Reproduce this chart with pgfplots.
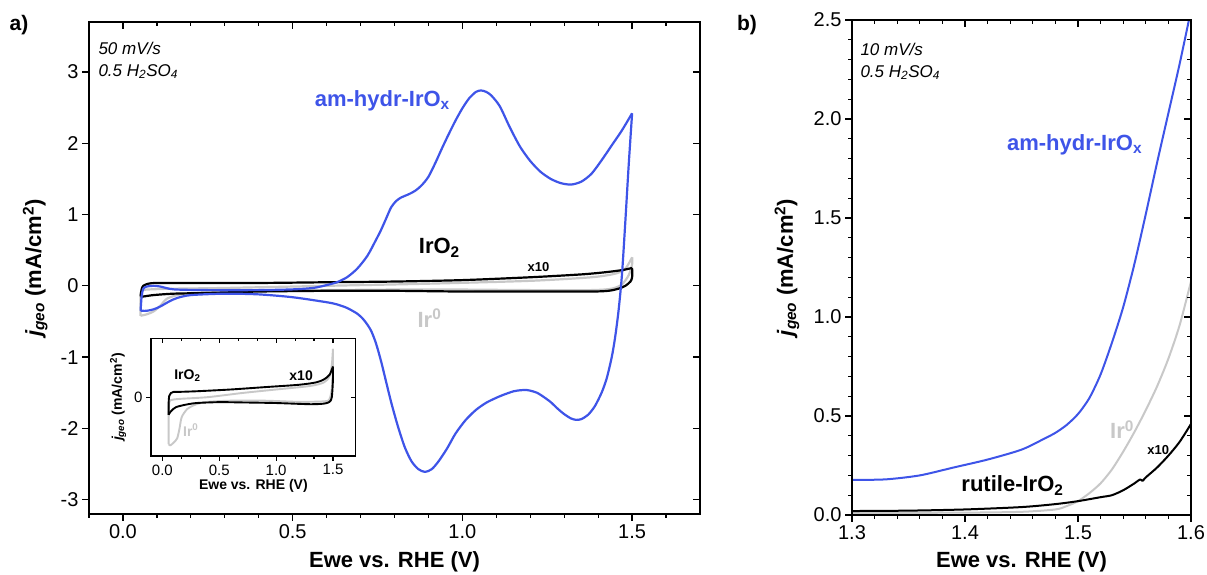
\documentclass[border=0pt]{standalone}
\usepackage{fontspec}
\setmainfont{Liberation Sans}
\usepackage{pgfplots}
\pgfplotsset{compat=1.18}
\definecolor{cblue}{RGB}{62,84,232}
\definecolor{cgray}{RGB}{200,200,200}

\newcommand{\fs}[1]{\fontsize{#1}{#1}\selectfont}

\pgfplotsset{
  base/.style={
    scale only axis,
    axis line style={line width=1.5pt},
    /pgf/number format/assume math mode=true,
    every tick/.style={line width=1.3pt, black},
    major tick length=7pt,
    minor tick length=4pt,
    tick label style={font=\fs{20}},
    label style={font=\bfseries\fs{22}},
  },
  mainticks/.style={tick align=outside, xtick pos=bottom, ytick pos=left},
  mirror/.style={tick align=inside, xtick pos=top, ytick pos=right,
    xticklabels={}, yticklabels={}, xlabel={}, ylabel={}},
  % panel a
  pa/.style={base, at={(89pt,61pt)}, anchor=south west, width=611pt, height=492pt,
    xmin=-0.1, xmax=1.7, ymin=-3.2, ymax=3.7,
    xtick={0,0.5,1,1.5},
    minor xtick={-0.1,0.1,0.2,0.3,0.4,0.6,0.7,0.8,0.9,1.1,1.2,1.3,1.4,1.6},
    ytick={-3,-2,-1,0,1,2,3},
    xticklabel style={/pgf/number format/.cd, fixed, fixed zerofill, precision=1},
  },
  % panel b
  pb/.style={base, at={(852pt,60pt)}, anchor=south west, width=339pt, height=495pt,
    xmin=1.3, xmax=1.6, ymin=0, ymax=2.5,
    xtick={1.3,1.4,1.5,1.6}, ytick={0,0.5,1,1.5,2,2.5}, minor tick num=4,
    xticklabel style={/pgf/number format/.cd, fixed, fixed zerofill, precision=1},
    yticklabel style={/pgf/number format/.cd, fixed, fixed zerofill, precision=1},
  },
  % inset
  pi/.style={base, at={(151pt,119pt)}, anchor=south west, width=204.7pt, height=117.7pt,
    xmin=-0.1, xmax=1.7, ymin=-1, ymax=1,
    xtick={0,0.5,1,1.5}, minor x tick num=2, ytick={0},
    axis line style={line width=1.3pt},
    every tick/.style={line width=1.1pt, black},
    major tick length=5pt, minor tick length=3pt,
    tick label style={font=\fs{15}},
    label style={font=\bfseries\fs{14}},
    xticklabel style={/pgf/number format/.cd, fixed, fixed zerofill, precision=1},
  },
  cv/.style={smooth, tension=0.45, line join=round},
}

\begin{document}
\begin{tikzpicture}
\useasboundingbox (0,0) rectangle (1207pt,575pt);

% ---------------- Panel a ----------------
\begin{axis}[pa, mainticks,
  xlabel={Ewe vs. RHE (V)},
  xlabel style={at={(axis description cs:0.5,-0.098)}, anchor=center},
  ylabel={{\itshape j\textsubscript{geo}} (mA/cm\textsuperscript{2})},
  ylabel style={at={(axis description cs:-0.088,0.5)}, anchor=center},
]
% Ir0 (gray)
\addplot[cgray, line width=2.2pt, cv] coordinates {
(0.052,-0.42) (0.052,-0.10) (0.060,-0.06) (0.080,-0.05) (0.150,-0.04) (0.300,-0.03) (0.600,0.00)
(0.900,0.03) (1.200,0.07) (1.380,0.12) (1.450,0.17) (1.480,0.24) (1.500,0.40)
};
\addplot[cgray, line width=2.2pt, cv] coordinates {
(1.500,0.40) (1.500,0.30) (1.490,0.15) (1.470,0.02) (1.440,-0.04) (1.380,-0.06) (1.200,-0.06)
(0.900,-0.05) (0.600,-0.06) (0.400,-0.07) (0.250,-0.09) (0.170,-0.12) (0.130,-0.18)
(0.110,-0.28) (0.090,-0.36) (0.070,-0.40) (0.052,-0.42)
};
% IrO2 x10 (black)
\addplot[black, line width=2.2pt, cv] coordinates {
(0.052,-0.15) (0.055,-0.05) (0.060,0.00) (0.075,0.03) (0.100,0.04) (0.200,0.04)
(0.400,0.04) (0.600,0.05) (0.800,0.06) (1.000,0.08) (1.200,0.12) (1.350,0.16)
(1.420,0.19) (1.470,0.22) (1.500,0.25)
};
\addplot[black, line width=2.2pt, cv] coordinates {
(1.500,0.25) (1.500,0.12) (1.495,0.06) (1.480,0.00)
(1.460,-0.04) (1.430,-0.07) (1.380,-0.08) (1.200,-0.08) (1.000,-0.08) (0.800,-0.07)
(0.600,-0.07) (0.400,-0.08) (0.250,-0.10) (0.150,-0.11) (0.090,-0.13) (0.060,-0.15)
(0.052,-0.15)
};
% am-hydr-IrOx (blue)
\addplot[cblue, line width=2.2pt, cv] coordinates {
(0.052,-0.35) (0.055,-0.15) (0.060,-0.04) (0.070,-0.01) (0.090,0.00) (0.110,-0.01)
(0.150,-0.05) (0.250,-0.06) (0.400,-0.06) (0.500,-0.05) (0.560,-0.03) (0.600,0.01)
(0.630,0.05) (0.660,0.12) (0.690,0.24) (0.720,0.42) (0.745,0.64) (0.760,0.78)
(0.775,0.94) (0.790,1.10) (0.805,1.19) (0.820,1.24) (0.840,1.28) (0.860,1.33)
(0.880,1.41) (0.900,1.53) (0.920,1.72) (0.940,1.93) (0.960,2.13) (0.980,2.32)
(1.000,2.49) (1.020,2.63) (1.040,2.72) (1.055,2.74) (1.070,2.72) (1.085,2.67)
(1.110,2.52) (1.140,2.22) (1.170,1.95) (1.200,1.75) (1.230,1.60) (1.260,1.50)
(1.290,1.44) (1.320,1.42) (1.350,1.46) (1.380,1.57) (1.410,1.76) (1.440,1.97)
(1.470,2.18) (1.500,2.42)
};
\addplot[cblue, line width=2.2pt, cv] coordinates {
(1.500,2.42) (1.490,1.70) (1.480,0.90) (1.470,0.15) (1.460,-0.35) (1.450,-0.72)
(1.440,-1.00) (1.425,-1.30) (1.410,-1.50) (1.390,-1.69) (1.370,-1.81) (1.350,-1.87)
(1.335,-1.88) (1.320,-1.86) (1.300,-1.80) (1.280,-1.72) (1.260,-1.63) (1.240,-1.56)
(1.220,-1.50) (1.200,-1.47) (1.188,-1.46) (1.170,-1.465) (1.150,-1.48) (1.120,-1.53)
(1.100,-1.57) (1.070,-1.64) (1.040,-1.74) (1.010,-1.88) (0.980,-2.07) (0.955,-2.28)
(0.930,-2.46) (0.910,-2.57) (0.890,-2.61) (0.870,-2.57) (0.850,-2.46) (0.830,-2.26)
(0.810,-1.97) (0.790,-1.63) (0.775,-1.34) (0.760,-1.05) (0.745,-0.80) (0.730,-0.62)
(0.710,-0.48) (0.690,-0.39) (0.660,-0.31) (0.630,-0.26) (0.600,-0.23) (0.500,-0.16)
(0.400,-0.12) (0.300,-0.11) (0.200,-0.13) (0.160,-0.17) (0.136,-0.22) (0.110,-0.29)
(0.090,-0.33) (0.070,-0.35) (0.052,-0.35)
};
\node[text=cblue, font=\bfseries\fs{22}] at (axis cs:0.764,2.59) {am-hydr-IrO\textsubscript{x}};
\node[font=\bfseries\fs{22}] at (axis cs:0.932,0.53) {IrO\textsubscript{2}};
\node[font=\bfseries\fs{13}] at (axis cs:1.224,0.27) {x10};
\node[text=cgray, font=\bfseries\fs{22}] at (axis cs:0.903,-0.45) {Ir\textsuperscript{0}};
\end{axis}
\begin{axis}[pa, mirror]
\end{axis}

% ---------------- Inset ----------------
\begin{axis}[pi, mainticks, axis background/.style={fill=white},
  xlabel={Ewe vs. RHE (V)},
  xlabel style={at={(axis description cs:0.5,-0.252)}, anchor=center},
  ylabel={{\itshape j\textsubscript{geo}} (mA/cm\textsuperscript{2})},
  ylabel style={at={(axis description cs:-0.161,0.5)}, anchor=center},
]
\addplot[cgray, line width=1.9pt, cv] coordinates {
(0.055,-0.80) (0.055,-0.30) (0.060,-0.10) (0.075,-0.05) (0.150,-0.03) (0.400,0.00)
(0.700,0.07) (1.000,0.13) (1.300,0.19) (1.420,0.25) (1.470,0.35) (1.490,0.55)
(1.500,0.82)
};
\addplot[cgray, line width=1.9pt, cv] coordinates {
(1.500,0.82) (1.500,0.55) (1.490,0.15) (1.470,-0.03) (1.430,-0.07) (1.200,-0.08)
(0.900,-0.06) (0.600,-0.06) (0.400,-0.08) (0.300,-0.12) (0.220,-0.20) (0.170,-0.34)
(0.150,-0.54) (0.130,-0.70) (0.100,-0.77) (0.070,-0.82) (0.055,-0.80)
};
\addplot[black, line width=1.9pt, cv] coordinates {
(0.055,-0.30) (0.055,-0.10) (0.060,0.02) (0.075,0.07) (0.100,0.09) (0.150,0.09)
(0.300,0.10) (0.600,0.13) (0.900,0.17) (1.200,0.21) (1.350,0.25) (1.420,0.30)
(1.470,0.38) (1.500,0.52)
};
\addplot[black, line width=1.9pt, cv] coordinates {
(1.500,0.52) (1.500,0.30) (1.490,0.00) (1.470,-0.08) (1.420,-0.11)
(1.300,-0.12) (1.000,-0.10) (0.700,-0.09) (0.500,-0.085) (0.300,-0.10) (0.200,-0.13)
(0.120,-0.17) (0.080,-0.23) (0.060,-0.28) (0.055,-0.30)
};
\node[font=\bfseries\fs{14}] at (axis cs:0.22,0.37) {IrO\textsubscript{2}};
\node[font=\bfseries\fs{14}] at (axis cs:1.22,0.37) {x10};
\node[text=cgray, font=\bfseries\fs{14}] at (axis cs:0.25,-0.56) {Ir\textsuperscript{0}};
\end{axis}
\begin{axis}[pi, mirror]
\end{axis}

% ---------------- Panel b ----------------
\begin{axis}[pb, mainticks,
  xlabel={Ewe vs. RHE (V)},
  xlabel style={at={(axis description cs:0.5,-0.095)}, anchor=center},
  ylabel={{\itshape j\textsubscript{geo}} (mA/cm\textsuperscript{2})},
  ylabel style={at={(axis description cs:-0.192,0.5)}, anchor=center},
]
\addplot[cgray, line width=2pt, cv] coordinates {
(1.300,0.010) (1.400,0.012) (1.450,0.016) (1.480,0.028) (1.490,0.045) (1.500,0.070)
(1.510,0.110) (1.520,0.160) (1.530,0.230) (1.540,0.320) (1.550,0.420) (1.560,0.530)
(1.570,0.650) (1.580,0.790) (1.590,0.960) (1.600,1.180)
};
\addplot[black, line width=2pt, cv] coordinates {
(1.300,0.020) (1.350,0.022) (1.400,0.028) (1.450,0.040) (1.480,0.055) (1.500,0.070)
(1.520,0.090) (1.530,0.100) (1.540,0.125) (1.550,0.160) (1.555,0.180) (1.557,0.172)
(1.560,0.190) (1.570,0.240) (1.580,0.300) (1.590,0.370) (1.600,0.460)
};
\addplot[cblue, line width=2pt, cv] coordinates {
(1.300,0.177) (1.330,0.180) (1.360,0.200) (1.390,0.240) (1.420,0.280) (1.450,0.330)
(1.470,0.385) (1.480,0.415) (1.490,0.455) (1.500,0.510) (1.510,0.590) (1.520,0.710)
(1.530,0.870) (1.540,1.050) (1.550,1.270) (1.560,1.520) (1.570,1.780) (1.580,2.030)
(1.590,2.280) (1.600,2.550)
};
\node[text=cblue, font=\bfseries\fs{22}] at (axis cs:1.497,1.87) {am-hydr-IrO\textsubscript{x}};
\node[text=cgray, font=\bfseries\fs{22}] at (axis cs:1.539,0.43) {Ir\textsuperscript{0}};
\node[font=\bfseries\fs{13}] at (axis cs:1.571,0.33) {x10};
\node[font=\bfseries\fs{22}] at (axis cs:1.442,0.15) {rutile-IrO\textsubscript{2}};
\end{axis}
\begin{axis}[pb, mirror]
\end{axis}

% annotations
\node[anchor=west, font=\itshape\fs{17}] at (95pt,526.7pt) {50 mV/s};
\node[anchor=west, font=\itshape\fs{17}] at (95pt,503.3pt) {0.5 H\textsubscript{2}SO\textsubscript{4}};
\node[anchor=west, font=\itshape\fs{17}] at (857pt,525.7pt) {10 mV/s};
\node[anchor=west, font=\itshape\fs{17}] at (857pt,502.3pt) {0.5 H\textsubscript{2}SO\textsubscript{4}};
\node[font=\bfseries\fs{21}] at (19pt,550pt) {a)};
\node[font=\bfseries\fs{21}] at (747pt,550pt) {b)};
\end{tikzpicture}
\end{document}
